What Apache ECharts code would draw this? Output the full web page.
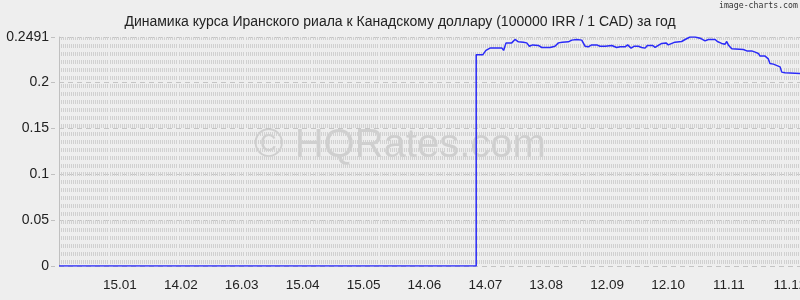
<!DOCTYPE html>
<html>
<head>
<meta charset="utf-8">
<script src="https://cdn.jsdelivr.net/npm/echarts@6/dist/echarts.min.js"></script>
<style>
html,body{margin:0;padding:0;background:#eeeeee;}
#chart{width:800px;height:300px;}
</style>
</head>
<body>
<div id="chart"></div>
<script>
const titleText = 'Динамика курса Иранского риала к Канадскому доллару (100000 IRR / 1 CAD) за год';
const xTickLabels = ['15.01','14.02','16.03','15.04','15.05','14.06','14.07','13.08','12.09','12.10','11.11','11.12'];
const days = [0, 205.5, 205.5, 208.7, 210.3, 212.3, 218.2, 219, 220.2, 223, 224.6, 226.3, 228.7, 230.4, 231.7, 233.3, 236.1, 237.8, 241.9, 244.3, 246, 246.8, 247.9, 250.9, 252.6, 255, 257.5, 259.1, 260.7, 262.4, 264.9, 266.5, 267.3, 269, 272.3, 273.1, 274.7, 276.4, 278.8, 280.1, 281.8, 283.4, 285.4, 287, 288.7, 289.8, 292.5, 293.6, 295.2, 296.9, 299, 300.1, 301, 303.4, 306.7, 308.4, 310.8, 313.3, 315.8, 318.2, 319.9, 323.2, 324.3, 326.4, 328.1, 328.9, 329.7, 331.4, 337.1, 338.8, 341.2, 342.9, 344.5, 345.3, 347.8, 349.4, 350.2, 351.9, 355.2, 356, 357.6, 358.4, 365];
const rates = [0, 0, 0.2297, 0.2297, 0.2345, 0.2370, 0.2370, 0.2345, 0.2427, 0.2427, 0.2464, 0.2438, 0.2435, 0.2427, 0.2391, 0.2405, 0.2399, 0.2377, 0.2377, 0.2391, 0.2427, 0.2413, 0.2435, 0.2438, 0.2457, 0.2464, 0.2457, 0.2391, 0.2384, 0.2405, 0.2405, 0.2391, 0.2405, 0.2391, 0.2399, 0.2384, 0.2377, 0.2384, 0.2384, 0.2405, 0.2370, 0.2391, 0.2391, 0.2377, 0.2370, 0.2399, 0.2399, 0.2377, 0.2399, 0.2421, 0.2427, 0.2405, 0.2384, 0.2435, 0.2442, 0.2464, 0.2491, 0.2491, 0.2478, 0.2449, 0.2464, 0.2464, 0.2442, 0.2421, 0.2413, 0.2442, 0.2405, 0.2362, 0.2355, 0.2340, 0.2340, 0.2326, 0.2312, 0.2283, 0.2283, 0.2253, 0.2203, 0.2196, 0.2166, 0.2109, 0.2101, 0.2095, 0.2095];
const yMax = 0.2491;
const yTickLabels = ['0', '0.05', '0.1', '0.15', '0.2', '0.2491'];

const chart = echarts.init(document.getElementById('chart'), null, {renderer: 'canvas'});
const font = 'Liberation Sans, Arial, sans-serif';
chart.setOption({
  backgroundColor: '#eeeeee',
  animation: false,
  title: {
    text: titleText,
    left: 'center',
    top: 10,
    textStyle: {fontFamily: font, fontSize: 14, fontWeight: 'normal', color: '#222'}
  },
  graphic: [
    {type: 'text', left: 719, top: 2, z: 10,
     style: {text: 'image-charts.com', font: '8.2px "DejaVu Sans Mono", monospace', fill: '#333'}},
    {type: 'text', left: 'center', top: 126, z: 0, silent: true,
     style: {text: '© HQRates.com', font: '40px "Liberation Sans", Arial, sans-serif', fill: '#cfcfcf'}}
  ],
  grid: {left: 59, right: 0, top: 37, bottom: 34, containLabel: false, outerBoundsMode: 'none'},
  xAxis: [
    {
      type: 'value', min: 0, max: 365, interval: 30,
      axisLine: {show: false}, axisTick: {show: false}, splitLine: {show: false},
      axisLabel: {
        margin: 12, fontFamily: font, fontSize: 13.5, color: '#222',
        showMinLabel: true, showMaxLabel: true, hideOverlap: false,
        formatter: function (v) {
          const k = Math.round(v / 30);
          if (Math.abs(v - k * 30) > 1e-6 || k < 1 || k > xTickLabels.length) return '';
          return xTickLabels[k - 1];
        }
      }
    },
    {
      type: 'value', min: 0, max: 365, interval: 1, position: 'top',
      axisLine: {show: false}, axisTick: {show: false}, axisLabel: {show: false},
      splitLine: {show: true, lineStyle: {color: '#d0d0d0', width: 1, type: [4, 4], dashOffset: 1}}
    }
  ],
  yAxis: {
    type: 'value', min: 0, max: yMax, interval: 0.05,
    axisLine: {show: true, lineStyle: {color: '#c0c0c0'}},
    axisTick: {show: true, length: 9, lineStyle: {color: '#c0c0c0', type: [4, 5], dashOffset: 5}},
    splitLine: {show: true, lineStyle: {color: '#c4c4c4', type: [5, 4]}},
    axisLabel: {
      margin: 10, fontFamily: font, fontSize: 14, color: '#222',
      formatter: function (v) {
        if (Math.abs(v - yMax) < 1e-6) return yTickLabels[5];
        const k = Math.round(v / 0.05);
        return yTickLabels[k] !== undefined ? yTickLabels[k] : '';
      }
    }
  },
  series: [{
    type: 'line',
    xAxisIndex: 0,
    data: days.map((d, i) => [d, rates[i]]),
    showSymbol: false,
    symbol: 'none',
    lineStyle: {color: '#2a2af8', width: 1.5},
    z: 5
  }]
});
</script>
</body>
</html>
